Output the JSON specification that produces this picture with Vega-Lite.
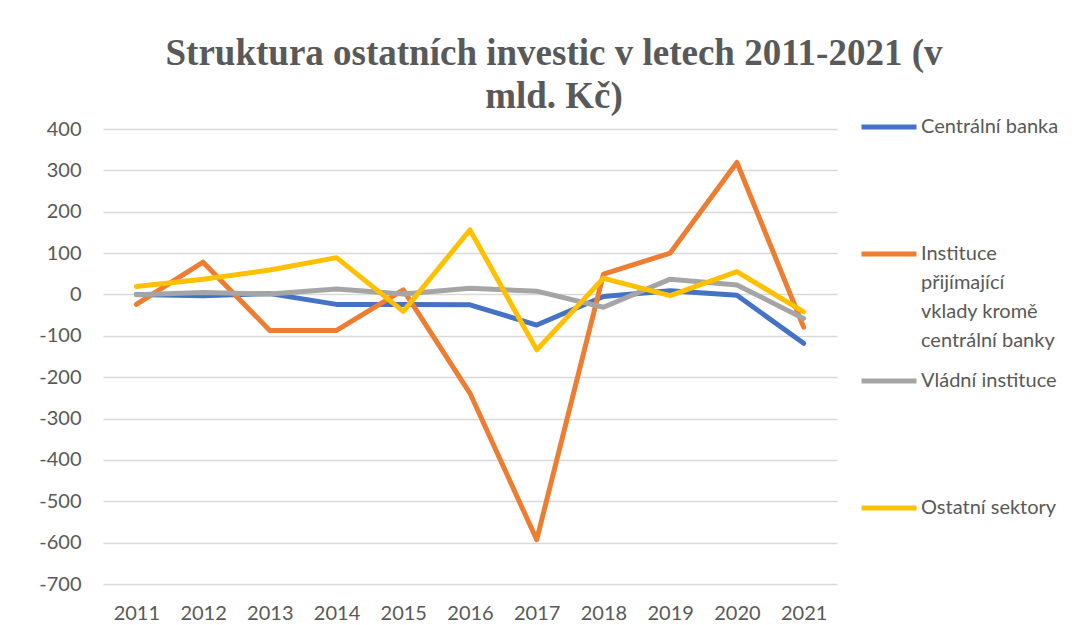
{
  "$schema": "https://vega.github.io/schema/vega-lite/v6.json",
  "width": 734,
  "height": 455,
  "autosize": {"type": "none"},
  "padding": {"left": 103, "top": 129, "right": 249, "bottom": 41},
  "background": "white",
  "title": {
    "text": ["Struktura ostatních investic v letech 2011-2021 (v", "mld. Kč)"],
    "anchor": "start",
    "frame": "group",
    "align": "center",
    "dx": 451,
    "dy": 69,
    "baseline": "alphabetic",
    "offset": 21,
    "font": "Liberation Serif",
    "fontWeight": "bold",
    "fontSize": 37,
    "lineHeight": 43,
    "color": "#595959"
  },
  "config": {
    "view": {"stroke": null},
    "font": "Lato",
    "style": {"guide-label": {"lineHeight": 29}}
  },
  "data": {
    "values": [
      {"year": "2011", "series": "Centrální banka", "value": 0},
      {"year": "2012", "series": "Centrální banka", "value": -3},
      {"year": "2013", "series": "Centrální banka", "value": 2},
      {"year": "2014", "series": "Centrální banka", "value": -24},
      {"year": "2015", "series": "Centrální banka", "value": -24},
      {"year": "2016", "series": "Centrální banka", "value": -25},
      {"year": "2017", "series": "Centrální banka", "value": -74},
      {"year": "2018", "series": "Centrální banka", "value": -5},
      {"year": "2019", "series": "Centrální banka", "value": 9},
      {"year": "2020", "series": "Centrální banka", "value": -2},
      {"year": "2021", "series": "Centrální banka", "value": -118},
      {"year": "2011", "series": "Instituce přijímající vklady kromě centrální banky", "value": -24},
      {"year": "2012", "series": "Instituce přijímající vklady kromě centrální banky", "value": 78},
      {"year": "2013", "series": "Instituce přijímající vklady kromě centrální banky", "value": -87},
      {"year": "2014", "series": "Instituce přijímající vklady kromě centrální banky", "value": -87},
      {"year": "2015", "series": "Instituce přijímající vklady kromě centrální banky", "value": 11},
      {"year": "2016", "series": "Instituce přijímající vklady kromě centrální banky", "value": -239},
      {"year": "2017", "series": "Instituce přijímající vklady kromě centrální banky", "value": -593},
      {"year": "2018", "series": "Instituce přijímající vklady kromě centrální banky", "value": 49},
      {"year": "2019", "series": "Instituce přijímající vklady kromě centrální banky", "value": 100},
      {"year": "2020", "series": "Instituce přijímající vklady kromě centrální banky", "value": 319},
      {"year": "2021", "series": "Instituce přijímající vklady kromě centrální banky", "value": -79},
      {"year": "2011", "series": "Vládní instituce", "value": -1},
      {"year": "2012", "series": "Vládní instituce", "value": 5},
      {"year": "2013", "series": "Vládní instituce", "value": 1},
      {"year": "2014", "series": "Vládní instituce", "value": 13},
      {"year": "2015", "series": "Vládní instituce", "value": 1},
      {"year": "2016", "series": "Vládní instituce", "value": 15},
      {"year": "2017", "series": "Vládní instituce", "value": 8},
      {"year": "2018", "series": "Vládní instituce", "value": -31},
      {"year": "2019", "series": "Vládní instituce", "value": 37},
      {"year": "2020", "series": "Vládní instituce", "value": 23},
      {"year": "2021", "series": "Vládní instituce", "value": -58},
      {"year": "2011", "series": "Ostatní sektory", "value": 19},
      {"year": "2012", "series": "Ostatní sektory", "value": 37},
      {"year": "2013", "series": "Ostatní sektory", "value": 59},
      {"year": "2014", "series": "Ostatní sektory", "value": 89},
      {"year": "2015", "series": "Ostatní sektory", "value": -41},
      {"year": "2016", "series": "Ostatní sektory", "value": 156},
      {"year": "2017", "series": "Ostatní sektory", "value": -134},
      {"year": "2018", "series": "Ostatní sektory", "value": 39},
      {"year": "2019", "series": "Ostatní sektory", "value": -3},
      {"year": "2020", "series": "Ostatní sektory", "value": 55},
      {"year": "2021", "series": "Ostatní sektory", "value": -42}
    ]
  },
  "mark": {"type": "line", "strokeWidth": 5, "strokeCap": "round", "strokeJoin": "round"},
  "encoding": {
    "x": {
      "field": "year",
      "type": "ordinal",
      "scale": {"type": "point", "padding": 0.5},
      "axis": {
        "title": null,
        "labelAngle": 0,
        "domain": false,
        "ticks": false,
        "grid": false,
        "labelFont": "Lato",
        "labelFontSize": 20,
        "labelColor": "#595959",
        "labelPadding": 19
      }
    },
    "y": {
      "field": "value",
      "type": "quantitative",
      "scale": {"domain": [-700, 400], "nice": false, "zero": false},
      "axis": {
        "title": null,
        "values": [-700, -600, -500, -400, -300, -200, -100, 0, 100, 200, 300, 400],
        "labelExpr": "'' + datum.value",
        "domain": false,
        "ticks": false,
        "grid": true,
        "gridColor": "#d9d9d9",
        "gridWidth": 1.5,
        "labelFont": "Lato",
        "labelFontSize": 20,
        "labelColor": "#595959",
        "labelPadding": 22
      }
    },
    "color": {
      "field": "series",
      "type": "nominal",
      "scale": {
        "domain": ["Centrální banka", "Instituce přijímající vklady kromě centrální banky", "Vládní instituce", "Ostatní sektory"],
        "range": ["#4472C4", "#ED7D31", "#A5A5A5", "#FFC000"]
      },
      "legend": {
        "title": null,
        "orient": "none",
        "legendX": 756,
        "legendY": -32,
        "symbolType": "stroke",
        "symbolSize": 3025,
        "symbolStrokeWidth": 5,
        "labelFont": "Lato",
        "labelFontSize": 20,
        "labelColor": "#595959",
        "labelLimit": 400,
        "labelOffset": 2,
        "rowPadding": 0,
        "padding": 0,
        "labelExpr": "datum.label == 'Instituce přijímající vklady kromě centrální banky' ? ['Instituce', 'přijímající', 'vklady kromě', 'centrální banky'] : [datum.label, '\u00a0', '\u00a0', '\u00a0']"
      }
    }
  }
}
